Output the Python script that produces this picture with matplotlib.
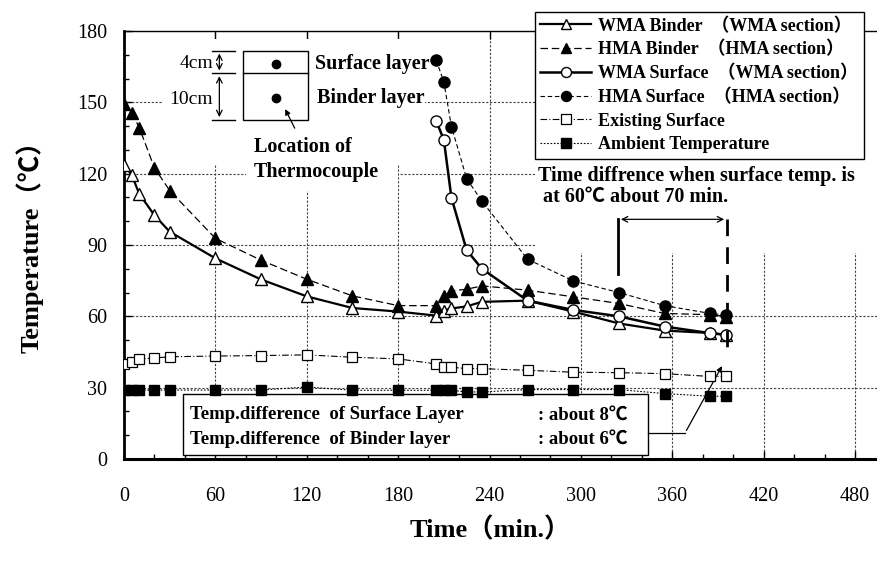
import numpy as np
import matplotlib.pyplot as plt
from matplotlib.patches import Rectangle
from matplotlib.ticker import MultipleLocator

plt.rcParams['font.family'] = ['Liberation Serif', 'Noto Sans CJK JP', 'DejaVu Serif']

# time (min) of the readings
times = [0, 5, 10, 20, 30, 60, 90, 120, 150, 180, 205, 210, 215, 225, 235, 265, 295, 325, 355, 385, 395]
surface_times = [205, 210, 215, 225, 235, 265, 295, 325, 355, 385, 395]

# temperatures (deg C)
wma_binder = [123.5, 119.6, 111.5, 102.5, 95.6, 84.4, 75.5, 68.4, 63.5, 62.0, 60.3,
              62.4, 63.3, 64.2, 66.1, 66.6, 62.0, 57.0, 54.0, 53.0, 52.2]
hma_binder = [149.3, 145.7, 139.4, 122.4, 112.9, 92.8, 83.6, 75.6, 68.6, 64.5, 64.5,
              68.6, 70.7, 71.4, 72.8, 71.0, 68.2, 65.4, 61.2, 60.7, 59.9]
wma_surface = [142.2, 134.2, 109.8, 87.8, 80.0, 66.6, 62.7, 60.0, 55.7, 52.9, 52.3]
hma_surface = [167.7, 158.6, 139.8, 117.9, 108.4, 84.0, 74.9, 70.0, 64.5, 61.2, 60.6]
existing = [40.0, 41.0, 42.0, 42.5, 43.0, 43.3, 43.5, 43.8, 42.8, 42.1, 40.0,
            38.6, 38.6, 38.0, 38.0, 37.3, 36.5, 36.3, 35.9, 34.7, 34.7]
ambient = [29.0, 29.0, 29.0, 29.0, 29.0, 29.0, 29.0, 30.3, 28.9, 28.9, 28.9,
           28.9, 28.9, 28.2, 28.2, 29.2, 29.2, 29.2, 27.5, 26.4, 26.4]

labels = ['WMA Binder  （WMA section）', 'HMA Binder  （HMA section）',
          'WMA Surface  （WMA section）', 'HMA Surface  （HMA section）',
          'Existing Surface', 'Ambient Temperature']

fig = plt.figure(figsize=(8.77, 5.63), dpi=100)
ax = fig.add_axes([124 / 877, 1 - 459 / 563, 1 - 124 / 877, (459 - 31) / 563])
ax.set_xlim(0, 494.4)
ax.set_ylim(0, 180)

k = 'black'
l1, = ax.plot(times, wma_binder, '-', color=k, lw=1.6, marker='^', ms=8.5, mfc='white', mec=k, mew=1, zorder=4)
l2, = ax.plot(times, hma_binder, color=k, lw=0.9, dashes=(6, 3), marker='^', ms=8.5, mfc=k, mec=k, zorder=4)
l3, = ax.plot(surface_times, wma_surface, '-', color=k, lw=1.8, marker='o', ms=8, mfc='white', mec=k, mew=1, zorder=4)
l4, = ax.plot(surface_times, hma_surface, color=k, lw=0.8, dashes=(4, 2.5), marker='o', ms=8, mfc=k, mec=k, zorder=4)
l5, = ax.plot(times, existing, color=k, lw=0.8, dashes=(6, 2, 1, 2), marker='s', ms=7.5, mfc='white', mec=k, mew=0.9, zorder=4)
l6, = ax.plot(times, ambient, color=k, lw=0.8, dashes=(1.5, 1.5), marker='s', ms=7.5, mfc=k, mec=k, zorder=4)

# grid
ax.set_axisbelow(True)
ax.xaxis.set_major_locator(MultipleLocator(60))
ax.xaxis.set_minor_locator(MultipleLocator(20))
ax.yaxis.set_major_locator(MultipleLocator(30))
ax.yaxis.set_minor_locator(MultipleLocator(10))
ax.grid(True, which='major', color='#444444', lw=0.8, ls=(0, (2, 1.5)))

# white areas that hide the grid behind texts
for x0, x1, y0, y1 in [(25.6, 197.6, 123.9, 176.6), (80, 180, 112.6, 123.9), (270, 494.4, 86.6, 180)]:
    ax.add_patch(Rectangle((x0, y0), x1 - x0, y1 - y0, fc='white', ec='none', zorder=1))

ax.spines['right'].set_visible(False)
ax.spines['left'].set_linewidth(2)
ax.spines['bottom'].set_linewidth(2.2)
ax.spines['top'].set_linewidth(1)
ax.tick_params(which='both', direction='in', labelsize=14.5)
ax.tick_params(which='major', length=6, width=1, top=True)
ax.tick_params(which='minor', length=3.5, width=1)
ax.tick_params(axis='y', pad=12)
ax.tick_params(axis='x', pad=20)

fig.text(30 / 877, 1 - 240 / 563, 'Temperature（℃）', rotation=90, fontsize=19, fontweight='bold',
         ha='center', va='center')
fig.text(490 / 877, 1 - 530 / 563, 'Time（min.）', fontsize=19, fontweight='bold', ha='center', va='center')

# inset sketch of the layers
ax.add_patch(Rectangle((77.9, 142.6), 121 - 77.9, 171.7 - 142.6, fc='none', ec=k, lw=1, zorder=5))
ax.plot([77.9, 121], [162.2, 162.2], color=k, lw=1, zorder=5)
ax.plot([99.8, 99.8], [166, 151.7], 'o', color=k, ms=6, zorder=5)
for yy in [171.7, 162.2, 142.6]:
    ax.plot([57.5, 72.9], [yy, yy], color=k, lw=1, zorder=5)
ax.annotate('', xy=(62.6, 171.7), xytext=(62.6, 162.2), arrowprops=dict(arrowstyle='<->', lw=0.9, color=k))
ax.annotate('', xy=(62.6, 162.2), xytext=(62.6, 142.6), arrowprops=dict(arrowstyle='<->', lw=0.9, color=k))
ax.text(58.4, 166.3, '4cm', fontsize=14, ha='right', va='center', zorder=6)
ax.text(58.4, 151.3, '10cm', fontsize=14, ha='right', va='center', zorder=6)
ax.text(125.4, 166, 'Surface layer', fontsize=14.5, fontweight='bold', ha='left', va='center', zorder=6)
ax.text(126.5, 151.7, 'Binder layer', fontsize=14.5, fontweight='bold', ha='left', va='center', zorder=6)
ax.annotate('', xy=(105, 148.2), xytext=(112.9, 138.1),
            arrowprops=dict(arrowstyle='-|>', lw=0.9, color=k, mutation_scale=8))
ax.text(117.5, 131.2, 'Location of', fontsize=14.5, fontweight='bold', ha='center', va='center', zorder=6)
ax.text(126.5, 120.8, 'Thermocouple', fontsize=14.5, fontweight='bold', ha='center', va='center', zorder=6)

# time difference note
ax.text(271.5, 114.6, 'Time diffrence when surface temp. is\n at 60℃ about 70 min.', fontsize=14.5,
        fontweight='bold', ha='left', va='center', linespacing=1.1, zorder=6)
ax.annotate('', xy=(324.4, 100.8), xytext=(395.9, 100.8),
            arrowprops=dict(arrowstyle='<->', lw=0.9, color=k))
ax.plot([324.4, 324.4], [100.8, 77.7], color=k, lw=2, zorder=5)
ax.plot([395.9, 395.9], [100.8, 43.7], color=k, lw=2, dashes=(6, 4), zorder=5)

# temperature difference box
ax.add_patch(Rectangle((38.7, 1.7), 344 - 38.7, 27.2 - 1.7, fc='white', ec=k, lw=1, zorder=3))
ax.text(43.3, 18.6, 'Temp.difference  of Surface Layer', fontsize=13.5, fontweight='bold', va='center', zorder=7)
ax.text(43.3, 8.2, 'Temp.difference  of Binder layer', fontsize=13.5, fontweight='bold', va='center', zorder=7)
ax.text(271.8, 18.6, ': about 8℃', fontsize=13.5, fontweight='bold', va='center', zorder=7)
ax.text(271.8, 8.2, ': about 6℃', fontsize=13.5, fontweight='bold', va='center', zorder=7)
ax.plot([344, 368.4], [11, 11], color=k, lw=0.9, zorder=6)
ax.annotate('', xy=(393.5, 40.1), xytext=(368.4, 11),
            arrowprops=dict(arrowstyle='-|>', lw=0.9, color=k, mutation_scale=8))

leg = fig.legend([l1, l2, l3, l4, l5, l6], labels, loc='upper left',
                 bbox_to_anchor=(535 / 877, 1 - 12 / 563), bbox_transform=fig.transFigure,
                 fancybox=False, edgecolor=k, framealpha=1, borderaxespad=0,
                 prop={'weight': 'bold', 'size': 13}, handlelength=2.8, handletextpad=0.4,
                 labelspacing=0.36, borderpad=0.3, markerscale=0.9)
leg.get_frame().set_linewidth(1)
leg.set_zorder(10)

fig.savefig('out.png', dpi=100)
